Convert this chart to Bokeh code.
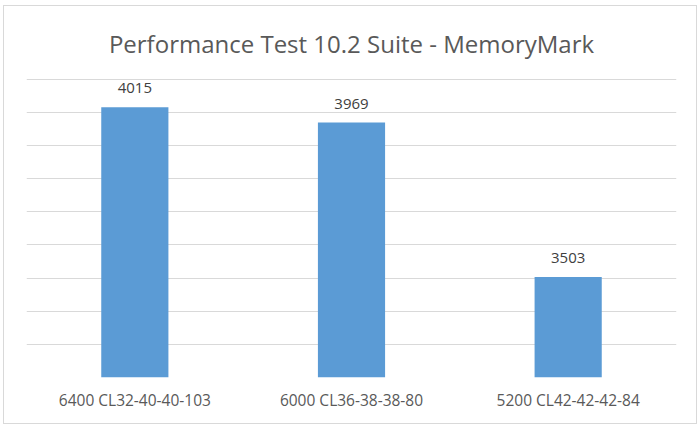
from bokeh.plotting import figure
from bokeh.models import ColumnDataSource, FactorRange, Range1d, LabelSet, SingleIntervalTicker
from bokeh.core.properties import value
from bokeh.embed import file_html
from bokeh.resources import INLINE

chart_title = "Performance Test 10.2 Suite - MemoryMark"
categories = ["6400 CL32-40-40-103", "6000 CL36-38-38-80", "5200 CL42-42-42-84"]
scores = [4015, 3969, 3503]
y_min = 3200
y_max = 4105
grid_step = 100

src = ColumnDataSource(dict(cat=categories, val=scores, lbl=[str(v) for v in scores]))

p = figure(width=694, height=419, x_range=FactorRange(*categories, range_padding=0),
           y_range=Range1d(y_min, y_max), output_backend="svg", toolbar_location=None,
           min_border_left=22, min_border_right=22, min_border_top=71, min_border_bottom=48)

p.title.text = chart_title
p.title.align = "center"
p.title.text_font = "Open Sans"
p.title.text_font_size = "24px"
p.title.text_font_style = "normal"
p.title.text_color = "#595959"
p.title.standoff = 36

p.vbar(x="cat", top="val", bottom=y_min, width=0.31, source=src,
       fill_color="#5b9bd5", line_color=None)

labels = LabelSet(x="cat", y="val", text="lbl", source=src, text_align="center",
                  text_baseline="middle", y_offset=19, text_font=value("Open Sans"),
                  text_font_size=value("15px"), text_color=value("#404040"))
p.add_layout(labels)

p.outline_line_color = None
p.xgrid.grid_line_color = None
p.ygrid.ticker = SingleIntervalTicker(interval=grid_step)
p.ygrid.grid_line_color = "#d9d9d9"
p.ygrid.grid_line_width = 1
p.yaxis.visible = False

p.xaxis.axis_line_color = None
p.xaxis.major_tick_line_color = None
p.xaxis.minor_tick_line_color = None
p.xaxis.major_tick_out = 0
p.xaxis.major_label_standoff = 11
p.xaxis.major_label_text_font = "Open Sans"
p.xaxis.major_label_text_font_size = "15.5px"
p.xaxis.major_label_text_color = "#595959"

p.styles = {"border": "1px solid #d9d9d9", "margin-left": "3px", "margin-top": "5px"}

open("out.html", "w").write(file_html(p, INLINE))
